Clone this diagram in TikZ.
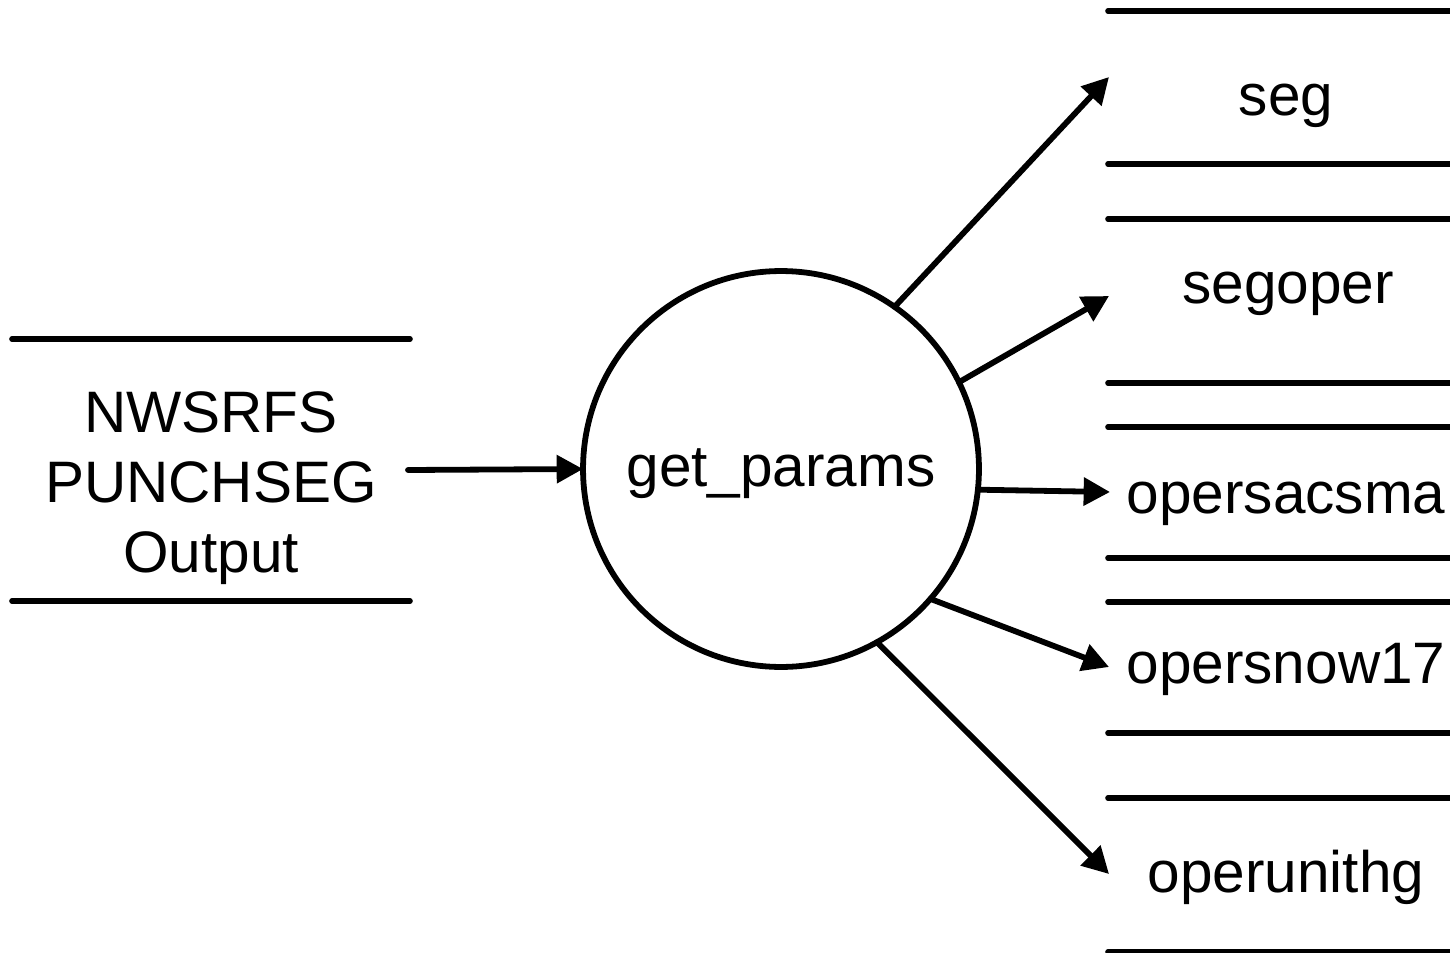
\documentclass[tikz,border=0pt]{standalone}
\usepackage{fontspec}
\setmainfont{Liberation Sans}
\usetikzlibrary{arrows.meta}

\begin{document}
\begin{tikzpicture}[x=0.02cm, y=-0.02cm,
  every node/.style={font=\fontsize{33.3pt}{39.7pt}\selectfont, inner sep=0pt, outer sep=0pt},
  storeline/.style={line width=3.2pt, line cap=round},
  flow/.style={line width=3.3pt, line cap=round, -{Triangle[length=15pt,width=15.5pt]}},
  proc/.style={circle, draw, line width=3.3pt, minimum size=7.92cm},
  storetext/.style={anchor=base}]
  \useasboundingbox (0,0) rectangle (1450,953);

  % input data store
  \draw[storeline] (12,339) -- (410,339);
  \draw[storeline] (12,601) -- (410,601);
  \node[align=center] (nws) at (211,488) {NWSRFS\\PUNCHSEG\\Output};
  \coordinate (nwsout) at (408,470);

  % process
  \node[proc] (gp) at (781,469) {};
  \node[storetext] (gplabel) at (781,486) {get\_params};

  % output data stores
  \foreach \y in {11,164,219,383,427,558,602,733,798,952}
    \draw[storeline] (1108,\y) -- (1470,\y);
  \node[storetext] (seg) at (1286,115) {seg};
  \node[storetext] (segoper) at (1288,303) {segoper};
  \node[storetext] (sac) at (1286,513) {opersacsma};
  \node[storetext] (snow) at (1286,683) {opersnow17};
  \node[storetext] (uhg) at (1286,892) {operunithg};

  % arrow tips next to the stores
  \coordinate (tseg) at (1109,77);
  \coordinate (tsegoper) at (1109,296);
  \coordinate (tsac) at (1110,492);
  \coordinate (tsnow) at (1109,667);
  \coordinate (tuhg) at (1109,874);

  % flows
  \draw[flow] (nwsout) -- (gp.west);
  \draw[flow] (gp.55.9) -- (tseg);
  \draw[flow] (gp.26.2) -- (tsegoper);
  \draw[flow] (gp.-6.7) -- (tsac);
  \draw[flow] (gp.-41) -- (tsnow);
  \draw[flow] (gp.-61) -- (tuhg);
\end{tikzpicture}
\end{document}
